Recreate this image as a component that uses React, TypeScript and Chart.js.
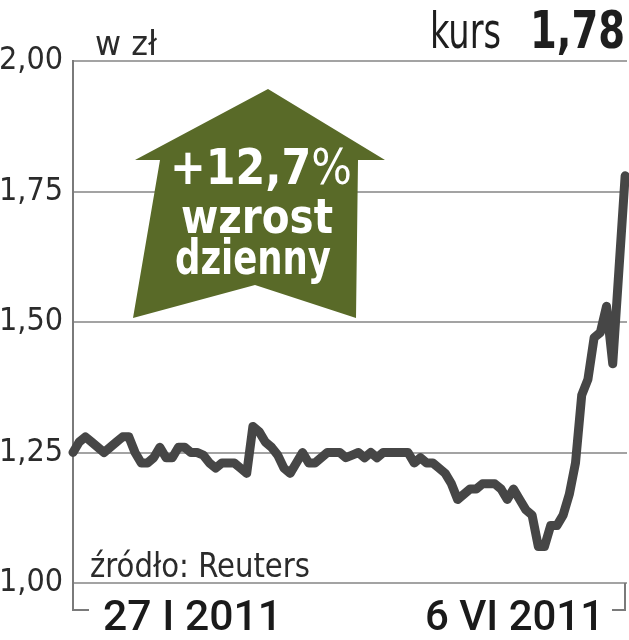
import { useEffect, useRef } from "react";
import { Chart, registerables } from "chart.js";

Chart.register(...registerables);

// ---- data ----
const values: number[] = [
  1.25, 1.27, 1.28, 1.27, 1.26, 1.25, 1.26, 1.27, 1.28, 1.28,
  1.25, 1.23, 1.23, 1.24, 1.26, 1.24, 1.24, 1.26, 1.26, 1.25,
  1.25, 1.245, 1.23, 1.22, 1.23, 1.23, 1.23, 1.22, 1.21, 1.3,
  1.29, 1.27, 1.26, 1.245, 1.22, 1.21, 1.23, 1.25, 1.23, 1.23,
  1.24, 1.25, 1.25, 1.25, 1.24, 1.245, 1.25, 1.24, 1.25, 1.24,
  1.25, 1.25, 1.25, 1.25, 1.25, 1.23, 1.24, 1.23, 1.23, 1.22,
  1.21, 1.19, 1.16, 1.17, 1.18, 1.18, 1.19, 1.19, 1.19, 1.18,
  1.16, 1.18, 1.16, 1.14, 1.13, 1.07, 1.07, 1.11, 1.11, 1.13,
  1.17, 1.23, 1.36, 1.39, 1.47, 1.48, 1.53, 1.42, 1.6, 1.78,
];
const yTicks: number[] = [1.0, 1.25, 1.5, 1.75, 2.0];
const xLabels: string[] = ["27 I 2011", "6 VI 2011"];
const unitLabel = "w zł";
const kursLabel = "kurs";
const kursValue = "1,78";
const changeLabel = "+12,7";
const changeLines = ["wzrost", "dzienny"];
const sourceLabel = "źródło: Reuters";

const FONT = '"Liberation Sans Narrow", "DejaVu Sans Condensed", Roboto, sans-serif';
const FONT_LABEL = 'Roboto, "DejaVu Sans Condensed", sans-serif';
const LINE_COLOR = "#464646";
const GRID_COLOR = "#a3a3a3";
const ARROW_COLOR = "#596a28";
const TEXT_COLOR = "#2b2b2b";

const fmt = (v: number) => v.toFixed(2).replace(".", ",");

function fitText(
  ctx: CanvasRenderingContext2D,
  text: string,
  x: number,
  y: number,
  width: number,
  align: "left" | "right" | "center"
) {
  const w = ctx.measureText(text).width;
  const s = width / w;
  ctx.save();
  ctx.translate(x, y);
  ctx.scale(s, 1);
  ctx.textAlign = "left";
  const x0 = align === "left" ? 0 : align === "right" ? -w : -w / 2;
  ctx.fillText(text, x0, 0);
  ctx.restore();
}

const overlay = {
  id: "overlay",
  afterDatasetsDraw(chart: any) {
    const ctx: CanvasRenderingContext2D = chart.ctx;
    const { left, right, bottom } = chart.chartArea;
    ctx.save();
    ctx.textBaseline = "alphabetic";

    // arrow
    ctx.fillStyle = ARROW_COLOR;
    ctx.beginPath();
    ctx.moveTo(268, 89);
    ctx.lineTo(385, 160);
    ctx.lineTo(358, 160);
    ctx.lineTo(356, 318);
    ctx.lineTo(255, 285);
    ctx.lineTo(133, 318);
    ctx.lineTo(160, 160);
    ctx.lineTo(135, 160);
    ctx.closePath();
    ctx.fill();

    // arrow text
    ctx.fillStyle = "#ffffff";
    ctx.font = `bold 50px ${FONT}`;
    const w1 = ctx.measureText(changeLabel).width;
    ctx.font = `normal 50px ${FONT}`;
    const w2 = ctx.measureText("%").width;
    const total = 182;
    const s = total / (w1 + w2);
    ctx.save();
    ctx.translate(170, 184);
    ctx.scale(s, 1);
    ctx.textAlign = "left";
    ctx.font = `bold 50px ${FONT}`;
    ctx.fillText(changeLabel, 0, 0);
    ctx.font = `normal 50px ${FONT}`;
    ctx.fillText("%", w1, 0);
    ctx.restore();
    ctx.font = `bold 48px ${FONT}`;
    fitText(ctx, changeLines[0], 257, 233, 152, "center");
    fitText(ctx, changeLines[1], 253, 274, 156, "center");

    // header texts
    ctx.fillStyle = TEXT_COLOR;
    ctx.font = `normal 34px ${FONT}`;
    fitText(ctx, unitLabel, 95, 55, 62, "left");

    ctx.fillStyle = "#1e1e1e";
    ctx.font = `bold 52px ${FONT}`;
    fitText(ctx, kursValue, 625, 48, 95, "right");
    ctx.font = `normal 50px ${FONT}`;
    fitText(ctx, kursLabel, 430, 48, 71, "left");

    // source
    ctx.fillStyle = TEXT_COLOR;
    ctx.font = `normal 33px ${FONT}`;
    fitText(ctx, sourceLabel, 90, 577, 220, "left");

    // bracket
    ctx.strokeStyle = "#7a7a7a";
    ctx.lineWidth = 2;
    ctx.beginPath();
    ctx.moveTo(left, bottom);
    ctx.lineTo(left, 610);
    ctx.lineTo(left + 16, 610);
    ctx.moveTo(right - 2, bottom);
    ctx.lineTo(right - 2, 610);
    ctx.lineTo(right - 15, 610);
    ctx.stroke();

    // x labels
    ctx.fillStyle = "#1a1a1a";
    ctx.font = `500 43px ${FONT_LABEL}`;
    fitText(ctx, xLabels[0], 103, 630, 179, "left");
    fitText(ctx, xLabels[1], 604, 630, 179, "right");

    ctx.restore();
  },
};

export default function App() {
  const ref = useRef<HTMLCanvasElement | null>(null);
  useEffect(() => {
    document.body.style.margin = "0";
    document.body.style.overflow = "hidden";
    const canvas = ref.current;
    if (!canvas) return;
    const chart = new Chart(canvas, {
      type: "line",
      data: {
        datasets: [
          {
            data: values.map((v, i) => ({ x: i, y: v })),
            borderColor: LINE_COLOR,
            borderWidth: 9,
            pointRadius: 0,
            tension: 0,
            borderJoinStyle: "round",
            borderCapStyle: "round",
            clip: 6,
          } as any,
        ],
      },
      options: {
        responsive: false,
        animation: false,
        devicePixelRatio: 1,
        layout: { padding: { top: 61, bottom: 57, left: 0, right: 2 } },
        plugins: { legend: { display: false }, tooltip: { enabled: false } },
        scales: {
          x: {
            type: "linear",
            min: 0,
            max: values.length - 1 + 0.3,
            display: false,
          },
          y: {
            min: 1,
            max: 2,
            afterBuildTicks: (s: any) => {
              s.ticks = yTicks.map((v) => ({ value: v }));
            },
            afterFit: (s: any) => {
              s.width = 73;
            },
            ticks: {
              callback: (v: any) => fmt(Number(v)),
              font: { family: FONT, size: 32 },
              color: TEXT_COLOR,
              padding: 10,
            },
            grid: { color: GRID_COLOR, lineWidth: 2, drawTicks: false },
            border: { display: true, color: "#7a7a7a", width: 2 },
          },
        },
      },
      plugins: [overlay],
    });
    return () => chart.destroy();
  }, []);
  return (
    <div style={{ position: "absolute", left: 0, top: 0, width: 629, height: 640 }}>
      <canvas ref={ref} width={629} height={640} style={{ display: "block" }} />
    </div>
  );
}
